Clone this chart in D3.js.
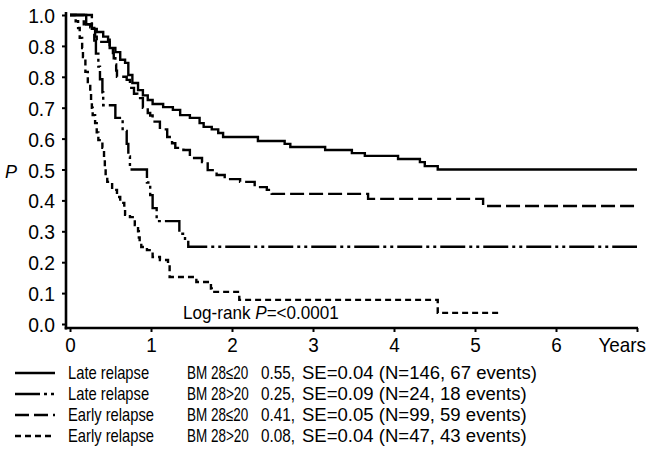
<!DOCTYPE html>
<html><head><meta charset="utf-8">
<script src="https://cdn.jsdelivr.net/npm/d3@7"></script>
<style>
html,body{margin:0;padding:0;background:#fff;}
svg text{font-family:"Liberation Sans","Arial",sans-serif;fill:#000;}
</style></head>
<body><svg id="c" width="652" height="456"></svg>
<script>
// ---- data ----
const relapse = ["Late relapse","Late relapse","Early relapse","Early relapse"];
const bmGroup = ["BM 28\u226420","BM 28>20","BM 28\u226420","BM 28>20"];
const estimates = ["0.55,","0.25,","0.41,","0.08,"];
const seTexts = ["SE=0.04 (N=146, 67 events)","SE=0.09 (N=24, 18 events)","SE=0.05 (N=99, 59 events)","SE=0.04 (N=47, 43 events)"];
const followUpEnd = [7.0, 7.0, 7.0, 5.33];
const lateLow = [[0,1],[0.20,0.97],[0.27,0.955],[0.33,0.945],[0.41,0.93],[0.47,0.92],[0.49,0.893],[0.56,0.88],[0.62,0.855],[0.68,0.845],[0.72,0.806],[0.77,0.78],[0.84,0.757],[0.90,0.74],[0.96,0.725],[1.02,0.712],[1.15,0.702],[1.27,0.693],[1.36,0.676],[1.48,0.667],[1.60,0.65],[1.65,0.638],[1.75,0.63],[1.83,0.618],[1.89,0.605],[2.32,0.592],[2.65,0.583],[2.72,0.573],[3.15,0.563],[3.48,0.553],[3.64,0.544],[4.05,0.534],[4.32,0.524],[4.38,0.511],[4.54,0.50]];
const lateHigh = [[0,1],[0.27,0.958],[0.30,0.917],[0.32,0.875],[0.35,0.833],[0.37,0.792],[0.40,0.75],[0.41,0.708],[0.56,0.667],[0.65,0.625],[0.70,0.583],[0.72,0.542],[0.74,0.50],[0.95,0.458],[0.99,0.417],[1.02,0.375],[1.07,0.333],[1.35,0.292],[1.42,0.27],[1.46,0.25]];
const earlyLow = [[0,1],[0.17,0.97],[0.25,0.96],[0.31,0.93],[0.33,0.913],[0.49,0.893],[0.53,0.877],[0.54,0.86],[0.56,0.84],[0.57,0.82],[0.58,0.80],[0.70,0.79],[0.74,0.764],[0.79,0.745],[0.83,0.731],[0.90,0.70],[0.96,0.683],[0.99,0.675],[1.02,0.655],[1.11,0.63],[1.20,0.605],[1.26,0.585],[1.30,0.57],[1.40,0.563],[1.48,0.537],[1.63,0.524],[1.70,0.498],[1.81,0.482],[1.91,0.469],[2.10,0.46],[2.28,0.443],[2.43,0.434],[2.49,0.421],[3.68,0.405],[5.10,0.382]];
const earlyHigh = [[0,1],[0.07,0.98],[0.10,0.958],[0.12,0.926],[0.15,0.893],[0.16,0.864],[0.19,0.816],[0.22,0.783],[0.25,0.751],[0.26,0.725],[0.27,0.70],[0.28,0.676],[0.31,0.65],[0.33,0.62],[0.35,0.595],[0.40,0.57],[0.42,0.54],[0.43,0.51],[0.44,0.485],[0.46,0.46],[0.52,0.434],[0.58,0.411],[0.62,0.392],[0.67,0.37],[0.68,0.353],[0.74,0.346],[0.80,0.32],[0.84,0.30],[0.85,0.28],[0.86,0.26],[0.88,0.249],[0.95,0.239],[1.02,0.217],[1.11,0.207],[1.21,0.191],[1.23,0.152],[1.56,0.136],[1.74,0.115],[1.75,0.104],[2.09,0.078],[4.54,0.036]];
const seriesData = [lateLow, lateHigh, earlyLow, earlyHigh];
const yTickValues = [0,0.1,0.2,0.3,0.4,0.5,0.6,0.7,0.8,0.9,1.0];
const yTickLabels = ["0.0","0.1","0.2","0.3","0.4","0.5","0.6","0.7","0.8","0.8","1.0"];
const xTickValues = [0,1,2,3,4,5,6,7];
const xTickLabels = ["0","1","2","3","4","5","6","Years"];
const dashes = ["none","25,4,3,4,3,4","14,5","6,4"];

// ---- drawing ----
const svg = d3.select("#c");
const x = d3.scaleLinear().domain([0,7]).range([70,637]);
const y = d3.scaleLinear().domain([0,1]).range([324,15]);

function addText(g, tx, ty, str, size, sx){
  return g.append("text").attr("transform",`translate(${tx},${ty}) scale(${sx},1)`)
    .attr("font-size",size).text(str);
}

// axes
const yAxis = d3.axisLeft(y).tickValues(yTickValues).tickSize(4).tickPadding(7)
  .tickFormat((d,i)=>yTickLabels[i]);
const gy = svg.append("g").attr("transform","translate(66,0)").call(yAxis);
gy.select(".domain").remove();
gy.selectAll(".tick line").attr("stroke","#000").attr("stroke-width",2);
gy.selectAll(".tick text").attr("font-size",21).attr("dy","0.36em")
  .attr("x",-12).attr("transform","scale(0.92,1)");

const xAxis = d3.axisBottom(x).tickValues(xTickValues).tickSize(4).tickPadding(5)
  .tickFormat((d,i)=>xTickLabels[i]);
const gx = svg.append("g").attr("transform","translate(0,328)").call(xAxis);
gx.select(".domain").remove();
gx.selectAll(".tick line").attr("stroke","#000").attr("stroke-width",2);
gx.selectAll(".tick text").attr("font-size",21).attr("transform","scale(0.9,1)");
gx.selectAll(".tick text").filter((d,i)=>i===7).attr("dx",-17);

svg.append("line").attr("x1",66).attr("x2",66).attr("y1",y(1)-3).attr("y2",329.5)
  .attr("stroke","#000").attr("stroke-width",2.6);
svg.append("line").attr("x1",64.7).attr("x2",x(7)+1).attr("y1",328).attr("y2",328)
  .attr("stroke","#000").attr("stroke-width",2.6);

// y title
svg.append("text").attr("x",5).attr("y",178).attr("font-size",18)
  .attr("font-style","italic").text("P");

// curves
const line = d3.line().x(d=>x(d[0])).y(d=>y(d[1])).curve(d3.curveStepAfter);
seriesData.forEach((s,i)=>{
  const pts = s.concat([[followUpEnd[i], s[s.length-1][1]]]);
  svg.append("path").attr("d",line(pts)).attr("fill","none")
    .attr("stroke","#000").attr("stroke-width",2.4)
    .attr("stroke-dasharray",dashes[i]);
});

// log-rank
const lr = svg.append("text").attr("transform","translate(183,319) scale(0.95,1)").attr("font-size",18);
lr.append("tspan").text("Log-rank ");
lr.append("tspan").attr("font-style","italic").text("P");
lr.append("tspan").text("=<0.0001");

// legend
const rowY = [373,394,415,436];
const lg = svg.append("g");
relapse.forEach((r,i)=>{
  lg.append("line").attr("x1",15).attr("x2",55).attr("y1",rowY[i]).attr("y2",rowY[i])
    .attr("stroke","#000").attr("stroke-width",2.4).attr("stroke-dasharray",dashes[i]);
  const ty = rowY[i]+6;
  addText(lg,68,ty,r,18,0.82);
  addText(lg,187,ty,bmGroup[i],18,0.75);
  addText(lg,261,ty,estimates[i],18,0.85);
  addText(lg,302,ty,seTexts[i],18,1.03);
});
</script></body></html>
